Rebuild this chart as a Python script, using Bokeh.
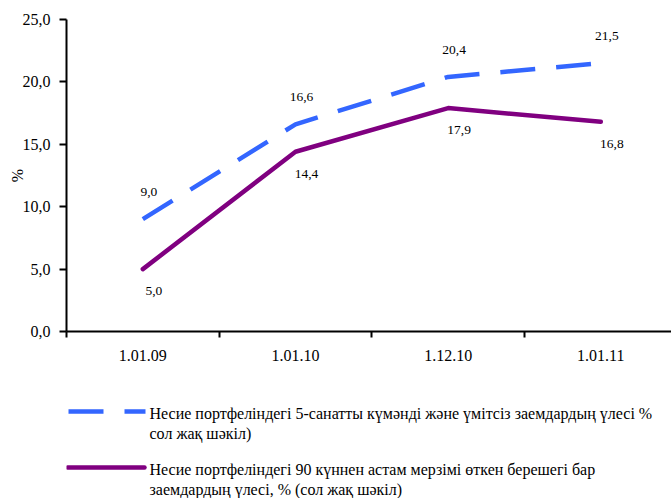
from bokeh.plotting import figure
from bokeh.models import Range1d, FixedTicker, ColumnDataSource
from bokeh.layouts import column
from bokeh.core.properties import value
from bokeh.embed import file_html
from bokeh.resources import INLINE

categories = ["1.01.09", "1.01.10", "1.12.10", "1.01.11"]
doubtful = [9.0, 16.6, 20.4, 21.5]
overdue = [5.0, 14.4, 17.9, 16.8]
y_ticks = [0, 5, 10, 15, 20, 25]
legend_doubtful = ["Несие портфеліндегі 5-санатты күмәнді және үмітсіз заемдардың үлесі %",
                   "сол жақ шәкіл)"]
legend_overdue = ["Несие портфеліндегі 90 күннен астам мерзімі өткен берешегі бар",
                  "заемдардың үлесі, % (сол жақ шәкіл)"]

FONT = "Liberation Serif"
BLUE = "#3366FF"
PURPLE = "#800080"

def fmt(v):
    return f"{v:.1f}".replace(".", ",")

xs = [i + 0.5 for i in range(len(categories))]

W = 671
LEFT = 66
H1 = 375
p = figure(width=W, height=H1, output_backend="svg", toolbar_location=None,
           x_range=Range1d(0, 3.963), y_range=Range1d(0, 25),
           min_border_left=LEFT, min_border_right=0, min_border_top=19, min_border_bottom=H1 - 19 - 312)
p.outline_line_color = None
p.xgrid.grid_line_color = None
p.ygrid.grid_line_color = None
p.background_fill_color = "white"
p.border_fill_color = "white"

# y axis
p.yaxis.ticker = FixedTicker(ticks=y_ticks, minor_ticks=[])
p.yaxis.major_label_overrides = {t: fmt(t) for t in y_ticks}
p.yaxis.axis_line_width = 2
p.yaxis.major_tick_line_width = 2
p.yaxis.major_tick_out = 7
p.yaxis.major_tick_in = 0
p.yaxis.minor_tick_line_color = None
p.yaxis.major_label_standoff = 9
p.yaxis.major_label_text_font = FONT
p.yaxis.major_label_text_font_size = "16px"
p.yaxis.major_label_text_color = "black"
p.yaxis.axis_label = "%"
p.yaxis.axis_label_text_font = FONT
p.yaxis.axis_label_text_font_size = "16px"
p.yaxis.axis_label_text_font_style = "normal"
p.yaxis.axis_label_text_color = "black"
p.yaxis.axis_label_standoff = -6

# x axis (categorical, labels at centers, ticks between)
p.xaxis.ticker = FixedTicker(ticks=xs, minor_ticks=list(range(len(categories))))
p.xaxis.major_label_overrides = {x: c for x, c in zip(xs, categories)}
p.xaxis.axis_line_width = 2
p.xaxis.major_tick_line_color = None
p.xaxis.major_tick_out = 5
p.xaxis.major_tick_in = 0
p.xaxis.minor_tick_line_color = "black"
p.xaxis.minor_tick_line_width = 2
p.xaxis.minor_tick_out = 6
p.xaxis.minor_tick_in = 0
p.xaxis.major_label_standoff = 12
p.xaxis.major_label_text_font = FONT
p.xaxis.major_label_text_font_size = "16px"
p.xaxis.major_label_text_color = "black"

src = ColumnDataSource(dict(x=xs, d=doubtful, o=overdue,
                            dl=[fmt(v) for v in doubtful], ol=[fmt(v) for v in overdue]))

p.line("x", "o", source=src, line_color=PURPLE, line_width=4.5,
       line_cap="round", line_join="round")
p.line("x", "d", source=src, line_color=BLUE, line_width=4.5,
       line_dash="35 21", line_join="round")

p.text("x", "d", text="dl", source=src, x_offset=6, y_offset=-27,
       text_align="center", text_baseline="middle",
       text_font=value(FONT), text_font_size="13.5px", text_color="black")
p.text("x", "o", text="ol", source=src, x_offset=11, y_offset=22,
       text_align="center", text_baseline="middle",
       text_font=value(FONT), text_font_size="13.5px", text_color="black")

# legend figure (page-like coordinates, y downward), frame aligned with the chart
H2 = 498 - H1
lg = figure(width=W, height=H2, output_backend="svg", toolbar_location=None,
            x_range=Range1d(LEFT, W), y_range=Range1d(H1 + H2, H1),
            min_border_left=LEFT, min_border_right=0, min_border_top=0, min_border_bottom=0,
            x_axis_type=None, y_axis_type=None)
lg.outline_line_color = None
lg.xgrid.grid_line_color = None
lg.ygrid.grid_line_color = None

lg.line([68, 145], [411, 411], line_color=BLUE, line_width=4.5, line_dash="35 21")
lg.line([67, 144], [467, 467], line_color=PURPLE, line_width=4.5, line_cap="round")
lg.text([149, 149], [413, 433], text=legend_doubtful, text_baseline="middle",
        text_font=value(FONT), text_font_size="16px", text_color="black")
lg.text([149, 149], [469, 489], text=legend_overdue, text_baseline="middle",
        text_font=value(FONT), text_font_size="16px", text_color="black")

layout = column(p, lg, spacing=0)
open("out.html", "w").write(file_html(layout, INLINE))
